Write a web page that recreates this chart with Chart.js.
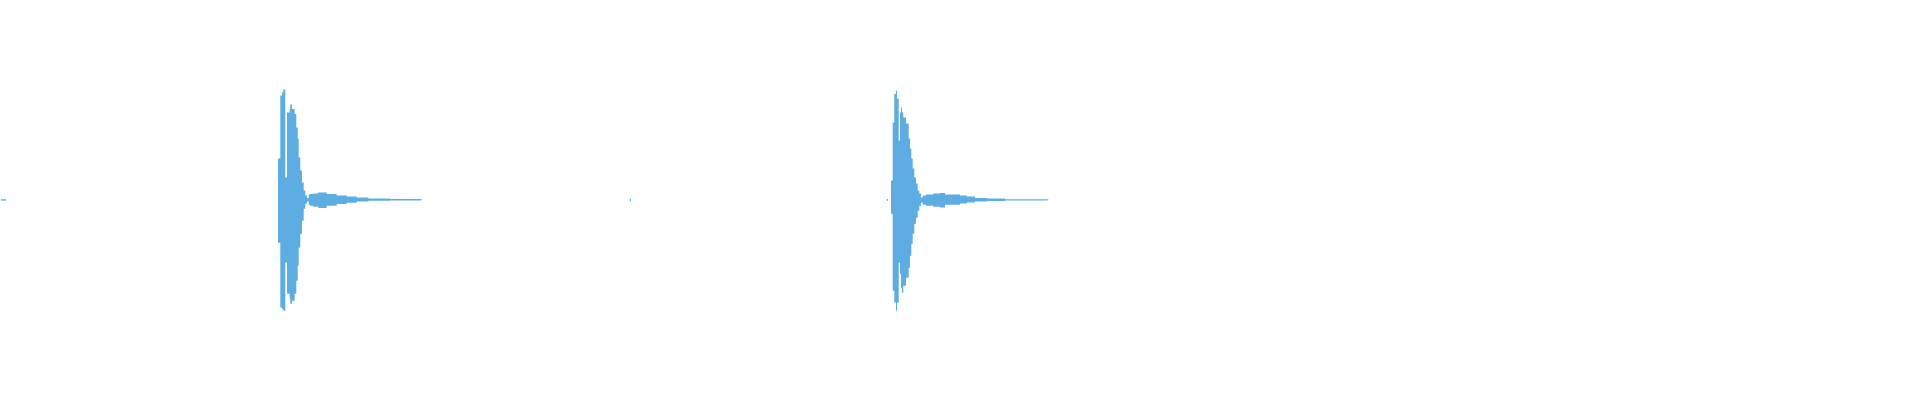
<!DOCTYPE html>
<html>
<head>
<meta charset="utf-8">
<script src="https://cdn.jsdelivr.net/npm/chart.js@4/dist/chart.umd.min.js"></script>
<style>
  html, body { margin: 0; padding: 0; background: #ffffff; }
  #wrap { width: 1920px; height: 400px; position: relative; }
</style>
</head>
<body>
<div id="wrap"><canvas id="wave"></canvas></div>
<script>
// amplitude envelope (percent of full scale), read column by column
const markX = [1, 6];
const markTop = [0.4, 0.4];
const markBottom = [-0.3, -0.3];

const burst1X = [278, 280.3, 282, 283.3, 285.3, 287, 289.7, 290.3, 292, 294.7, 296.3, 297.7, 298.7, 300.3, 302, 303.7, 305.3, 307, 308.7, 310, 313.3, 318.3, 326.7, 336.7, 346.7, 356.7, 368.3, 390, 400, 421.7];
const burst1Top = [0.5, 20.7, 52.2, 53.8, 55.2, 11.3, 43.8, 45.5, 47.7, 45.5, 43.0, 36.3, 30.7, 21.3, 14.7, 8.8, 4.7, 2.2, 1.0, 2.7, 3.0, 3.3, 3.7, 3.0, 2.3, 1.7, 1.2, 0.8, 0.5, 0.5];
const burst1Bottom = [-0.4, -21.4, -53.7, -54.5, -55.4, -31.2, -46.9, -49.4, -51.9, -50.4, -46.9, -40.4, -32.9, -23.7, -16.9, -10.4, -4.4, -1.9, -0.7, -2.4, -2.9, -3.4, -4.0, -2.9, -2.0, -1.4, -0.7, -0.35, -0.2, -0.2];

const blipX = [629.5, 631];
const blipTop = [0.6, 0.6];
const blipBottom = [-0.6, -0.6];

const burst2DotX = [886.5, 888];
const burst2DotTop = [0.5, 0.5];
const burst2DotBottom = [-0.4, -0.4];

const burst2X = [891, 892.7, 894.3, 896, 897, 898.7, 900, 901, 902, 903.3, 906, 908.7, 910, 911.3, 912.7, 914.3, 916, 917.7, 919.3, 921, 922.7, 926, 933.3, 940, 945, 960, 966.7, 975, 986.7, 1005, 1020, 1046.7];
const burst2Top = [1.3, 9.7, 38.8, 53.0, 54.7, 50.7, 29.7, 43.8, 46.3, 43.8, 41.3, 38.2, 30.7, 25.7, 20.7, 15.7, 11.2, 8.2, 4.7, 3.2, 1.3, 2.2, 2.7, 3.3, 3.5, 2.7, 2.2, 1.7, 1.0, 0.7, 0.4, 0.4];
const burst2Bottom = [-1.2, -6.9, -45.4, -51.2, -55.4, -51.4, -31.4, -36.9, -43.9, -46.4, -42.9, -38.9, -33.9, -27.9, -21.9, -16.9, -11.9, -8.9, -5.4, -2.9, -1.2, -2.4, -2.9, -3.4, -3.7, -2.4, -1.7, -1.2, -0.7, -0.5, -0.2, -0.2];

const endDotX = [1047, 1048.5];
const endDotTop = [0.5, 0.5];
const endDotBottom = [-0.3, -0.3];

const waveColor = "#5dade2";

const pieces = [
  [markX, markTop, markBottom],
  [burst1X, burst1Top, burst1Bottom],
  [blipX, blipTop, blipBottom],
  [burst2DotX, burst2DotTop, burst2DotBottom],
  [burst2X, burst2Top, burst2Bottom],
  [endDotX, endDotTop, endDotBottom],
];

const topPoints = [];
const bottomPoints = [];
pieces.forEach(([xs, top, bottom], i) => {
  if (i > 0) {
    const gap = xs[0] - 0.2;
    topPoints.push({ x: gap, y: null });
    bottomPoints.push({ x: gap, y: null });
  }
  xs.forEach((x, j) => {
    topPoints.push({ x: x, y: top[j] });
    bottomPoints.push({ x: x, y: bottom[j] });
  });
});

// each half of the envelope is filled down to the centre line
const halfStyle = {
  stepped: "after",
  borderColor: "transparent",
  borderWidth: 0,
  pointRadius: 0,
  backgroundColor: waveColor,
  fill: "origin",
  spanGaps: false,
};

const config = {
  type: "line",
  data: {
    datasets: [
      { ...halfStyle, data: topPoints },
      { ...halfStyle, data: bottomPoints },
    ],
  },
  options: {
    responsive: true,
    maintainAspectRatio: false,
    animation: false,
    layout: { padding: 0 },
    plugins: {
      legend: { display: false },
      tooltip: { enabled: false },
    },
    scales: {
      x: { type: "linear", min: 0, max: 1920, display: false },
      y: { min: -100, max: 100, display: false },
    },
  },
};

new Chart(document.getElementById("wave").getContext("2d"), config);
</script>
</body>
</html>
